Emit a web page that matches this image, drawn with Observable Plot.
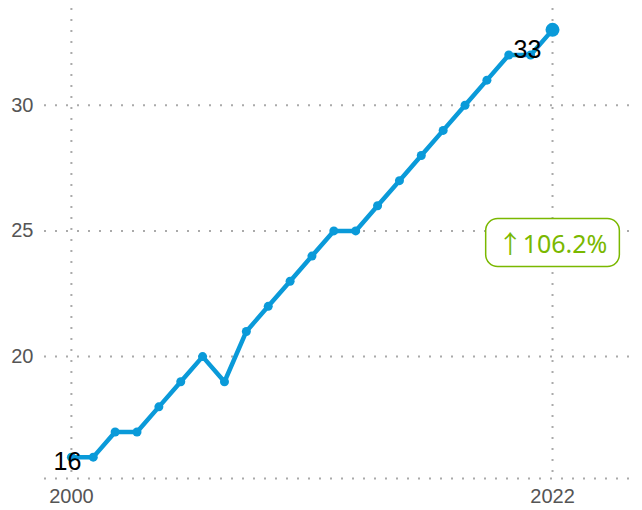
<!DOCTYPE html>
<html>
<head>
<meta charset="utf-8">
<script src="https://cdn.jsdelivr.net/npm/d3@7"></script>
<script src="https://cdn.jsdelivr.net/npm/@observablehq/plot@0.6"></script>
<style>
  html, body { margin: 0; padding: 0; background: #fff; }
  #chart svg { display: block; }
</style>
</head>
<body>
<div id="chart"></div>
<script>
const years = [2000,2001,2002,2003,2004,2005,2006,2007,2008,2009,2010,2011,2012,2013,2014,2015,2016,2017,2018,2019,2020,2021,2022];
const values = [16,16,17,17,18,19,20,19,21,22,23,24,25,25,26,27,28,29,30,31,32,32,33];
const xTicks = [2000, 2022];
const yTicks = [20, 25, 30];
const changeLabel = "↑106.2%";

const data = years.map((year, i) => ({year, value: values[i]}));
const first = data[0];
const last = data[data.length - 1];

const yMin = d3.min(values), yMax = d3.max(values);
const yPad = (yMax - yMin) * 0.05;
const yDomain = [yMin - yPad, yMax + yPad];
const xDomain = [1998.77, 2025.84];

const blue = "#0a9ad9";
const green = "#7ab800";
const gridStyle = {stroke: "#aaa", strokeOpacity: 1, strokeWidth: 2, strokeDasharray: "2,9"};

const plot = Plot.plot({
  width: 642,
  height: 510,
  marginLeft: 44,
  marginRight: 6,
  marginTop: 8,
  marginBottom: 32,
  style: {fontFamily: "Liberation Sans, Arial, sans-serif", fontSize: "19px", color: "#555", background: "#fff"},
  x: {domain: xDomain, label: null},
  y: {domain: yDomain, label: null},
  marks: [
    Plot.gridY(yTicks, {...gridStyle}),
    Plot.gridX(xTicks, {...gridStyle}),
    Plot.ruleY([yDomain[0]], {...gridStyle}),
    Plot.axisY(yTicks, {tickSize: 0, tickPadding: 11, fill: "#555", fontSize: 20, label: null}),
    Plot.axisX(xTicks, {tickSize: 0, tickPadding: 10, fill: "#555", fontSize: 20, label: null, tickFormat: d => String(d)}),
    Plot.line(data, {x: "year", y: "value", stroke: blue, strokeWidth: 4.5}),
    Plot.dot(data.slice(0, -1), {x: "year", y: "value", fill: blue, r: 4.5}),
    Plot.dot([last], {x: "year", y: "value", fill: blue, r: 7}),
    Plot.text([first], {x: "year", y: "value", text: d => String(d.value), fill: "#000", fontSize: 25, dx: -4, dy: 5, textAnchor: "middle"}),
    Plot.text([last], {x: "year", y: "value", text: d => String(d.value), fill: "#000", fontSize: 25, dx: -25, dy: 20, textAnchor: "middle"}),
    Plot.text([last], {x: "year", frameAnchor: "middle", dy: 1, text: () => changeLabel, fill: green, fontSize: 25, fontFamily: "Noto Sans, Noto Sans CJK SC, sans-serif", className: "change-label", textAnchor: "middle"})
  ]
});

document.getElementById("chart").appendChild(plot);

// rounded box around the change annotation, sized from the text's own bbox
const t = plot.querySelector(".change-label text");
if (t) {
  const bb = t.getBBox();
  const padX = 12, padY = 7;
  const rect = document.createElementNS("http://www.w3.org/2000/svg", "rect");
  rect.setAttribute("x", bb.x - padX);
  rect.setAttribute("y", bb.y - padY);
  rect.setAttribute("width", bb.width + 2 * padX);
  rect.setAttribute("height", bb.height + 2 * padY);
  rect.setAttribute("rx", 12);
  rect.setAttribute("fill", "#fff");
  rect.setAttribute("stroke", green);
  rect.setAttribute("stroke-width", 1.5);
  const tr = t.getAttribute("transform");
  if (tr) rect.setAttribute("transform", tr);
  t.parentNode.insertBefore(rect, t);
}
</script>
</body>
</html>
